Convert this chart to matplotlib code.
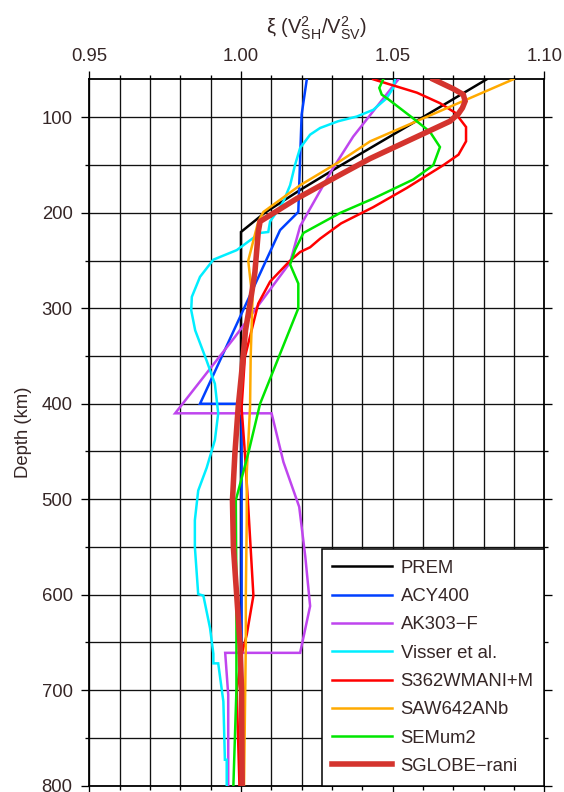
import matplotlib
matplotlib.use("Agg")
import matplotlib.pyplot as plt
from matplotlib.ticker import MultipleLocator, FormatStrFormatter

plt.rcParams['font.family'] = ['Liberation Sans', 'DejaVu Sans']
plt.rcParams['mathtext.fontset'] = 'custom'
plt.rcParams['mathtext.rm'] = 'Liberation Sans'
plt.rcParams['mathtext.it'] = 'Liberation Sans:italic'

TXT = '#352626'
FS = 13.3

# ---- data (depth in km, xi) ----
prem_d = [60, 100, 150, 176, 200, 220, 800]
prem_x = [1.081, 1.0598, 1.0330, 1.0195, 1.0078, 1.000, 1.000]

acy_d = [60, 97, 199, 218, 400, 400, 800]
acy_x = [1.0217, 1.0200, 1.0189, 1.0129, 0.9865, 1.0002, 1.0002]

ak_d = [60, 120, 155, 214, 252, 330, 410, 410, 461, 508, 560, 612, 661, 661, 705, 800]
ak_x = [1.0519, 1.0370, 1.0300, 1.0195, 1.0162, 0.9980, 0.9783, 1.0101, 1.0140, 1.0192,
        1.0212, 1.0228, 1.0195, 0.9948, 0.9958, 0.9958]

vis_d = [60, 69, 80, 92, 99, 104, 111, 118, 132, 150, 171, 188, 199, 209, 220, 221,
         239, 249, 267, 288, 302, 323, 355, 379, 410, 438, 467, 491, 522, 550, 599.5,
         601, 635, 662, 672, 672, 712, 773, 773, 800]
vis_x = [1.0508, 1.0502, 1.0480, 1.0436, 1.0382, 1.0320, 1.0261, 1.0228, 1.0195, 1.0178,
         1.0162, 1.0140, 1.0118, 1.0096, 1.0090, 1.0063, 0.9986, 0.9909, 0.9865, 0.9838,
         0.9836, 0.9849, 0.9887, 0.9914, 0.9925, 0.9914, 0.9887, 0.9859, 0.9848, 0.9848,
         0.9859, 0.9876, 0.9898, 0.9909, 0.9909, 0.9925, 0.9942, 0.9947, 0.9953, 0.9953]

s362_d = [60, 74, 85, 95, 110, 125, 139, 150, 174, 194, 211, 227, 236, 241, 251, 272,
          295, 323, 351, 404, 452, 508, 601, 642, 663, 701, 800]
s362_x = [1.0436, 1.0580, 1.0656, 1.0706, 1.0742, 1.0742, 1.0717, 1.0667, 1.0546, 1.0436,
          1.0330, 1.0261, 1.0228, 1.0195, 1.0159, 1.0096, 1.0057, 1.0035, 1.0013, 1.0002,
          1.0013, 1.0024, 1.0041, 1.0019, 1.0002, 0.9986, 0.9995]

saw_d = [60, 125, 148, 171, 199, 209, 250, 291, 351, 403, 473, 522, 601, 651, 800]
saw_x = [1.0898, 1.0426, 1.0316, 1.0195, 1.0074, 1.0057, 1.0024, 1.0038, 1.0032, 1.0030,
         1.0019, 1.0019, 1.0016, 1.0016, 1.0010]

sem_d = [60, 69, 76, 81, 101, 115, 131, 150, 165, 185, 200, 221, 239, 254, 274, 300,
         400, 452, 501, 600, 700, 800]
sem_x = [1.0469, 1.0456, 1.0464, 1.0486, 1.0568, 1.0623, 1.0656, 1.0634, 1.0568, 1.0436,
         1.0327, 1.0206, 1.0178, 1.0162, 1.0189, 1.0189, 1.0063, 1.0024, 0.9983, 0.9985,
         0.9985, 0.9975]

sg_d = [60, 70, 76, 83, 90, 96, 104, 143, 160, 185, 209, 220, 262, 291, 323, 368, 403,
        452, 501, 550, 601, 652, 701, 800]
sg_x = [1.0634, 1.0700, 1.0733, 1.0739, 1.0730, 1.0717, 1.0689, 1.0426, 1.0327, 1.0184,
        1.0063, 1.0057, 1.0046, 1.0032, 1.0015, 1.0002, 0.9991, 0.9980, 0.9972, 0.9975,
        0.9986, 0.9997, 1.0002, 1.0004]

models = ['PREM', 'ACY400', 'AK303\u2212F', 'Visser et al.', 'S362WMANI+M',
          'SAW642ANb', 'SEMum2', 'SGLOBE\u2212rani']
colors = ['#000000', '#0040ff', '#bf45ee', '#00eeff', '#ff0000', '#ffaa00',
          '#00e600', '#d4342e']
series = [(prem_x, prem_d), (acy_x, acy_d), (ak_x, ak_d), (vis_x, vis_d),
          (s362_x, s362_d), (saw_x, saw_d), (sem_x, sem_d), (sg_x, sg_d)]

fig = plt.figure(figsize=(5.64, 7.92), dpi=100)
ax = fig.add_axes([89.3/564, 1 - 785.5/792, (544.3-89.3)/564, (785.5-79.3)/792])

for (xs, ds), name, c in zip(series, models, colors):
    lw = 4.0 if name.startswith('SGLOBE') else 1.8
    ax.plot(xs, ds, color=c, lw=lw, label=name, solid_joinstyle='miter', zorder=3)

ax.set_xlim(0.95, 1.10)
ax.set_ylim(800, 60)
ax.xaxis.set_major_locator(MultipleLocator(0.05))
ax.xaxis.set_minor_locator(MultipleLocator(0.01))
ax.yaxis.set_major_locator(MultipleLocator(100))
ax.yaxis.set_minor_locator(MultipleLocator(50))
ax.xaxis.set_major_formatter(FormatStrFormatter('%.2f'))
ax.grid(True, which='both', color='#111111', lw=0.95, zorder=1)
ax.set_axisbelow(True)

ax.tick_params(which='both', direction='out', top=True, bottom=True, left=True, right=True,
               labeltop=True, labelbottom=False, labelleft=True, labelright=False,
               colors='black', labelcolor=TXT, labelsize=FS, width=0.95)
ax.tick_params(which='major', length=6)
ax.tick_params(which='minor', length=3)
ax.tick_params(axis='x', which='major', pad=4)
ax.tick_params(axis='y', which='major', pad=6)
for s in ax.spines.values():
    s.set_linewidth(1.3)

ax.set_ylabel('Depth (km)', fontsize=FS, color=TXT, labelpad=7)
fig.text(316.8/564, 1 - 28/792, r'ξ (V$_{\mathrm{SH}}^{\mathrm{2}}$/V$_{\mathrm{SV}}^{\mathrm{2}}$)',
         ha='center', va='center', fontsize=14.5, color=TXT)

leg = ax.legend(loc='lower right', bbox_to_anchor=(1, 0), borderaxespad=0,
                fancybox=False, framealpha=1, edgecolor='black', fontsize=FS,
                handlelength=3.25, handletextpad=0.45, labelspacing=0.61, borderpad=0.58)
leg.get_frame().set_linewidth(1.1)
for t in leg.get_texts():
    t.set_color(TXT)
leg.set_zorder(5)

fig.savefig('out.png', dpi=100)
